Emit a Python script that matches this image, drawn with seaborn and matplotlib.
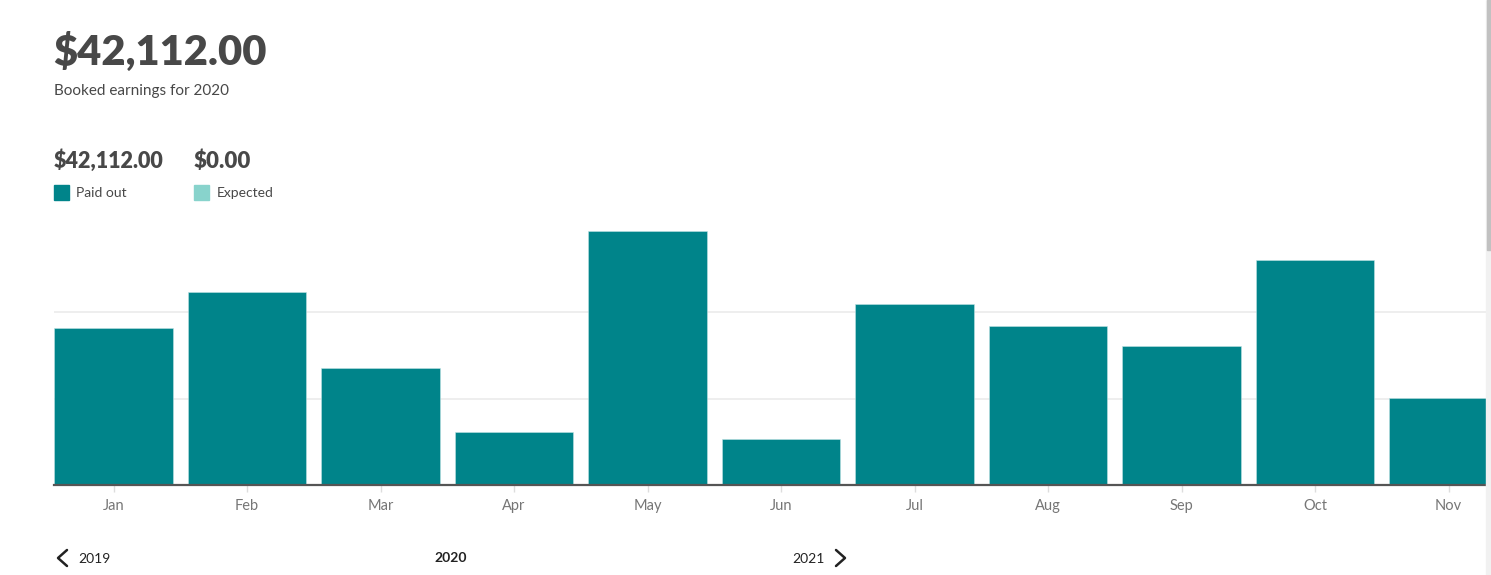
import matplotlib
matplotlib.use('Agg')
import matplotlib.pyplot as plt
from matplotlib.lines import Line2D
from matplotlib.patches import Rectangle
import pandas as pd
import seaborn as sns

# Monthly payouts for 2020 (grid step = 2000)
months = ['Jan', 'Feb', 'Mar', 'Apr', 'May', 'Jun', 'Jul', 'Aug', 'Sep', 'Oct', 'Nov']
paid_out = [3640, 4480, 2700, 1230, 5880, 1070, 4190, 3680, 3210, 5210, 2010]
grid_values = [2000, 4000]
total_paid = '$42,112.00'
total_expected = '$0.00'
year_prev, year_cur, year_next = '2019', '2020', '2021'

TEAL = '#00848a'
LIGHT_TEAL = '#88d3cc'
DARK = '#484848'
GRAY = '#767676'

sns.set_theme(style='white')
plt.rcParams['font.family'] = ['Lato', 'DejaVu Sans']

W, H = 1491, 575
fig = plt.figure(figsize=(W / 100, H / 100), dpi=100)
fig.patch.set_facecolor('white')


def fx(px):
    return px / W


def fy(py):
    return 1 - py / H


# axis: left edge at 54px, baseline at 485px, one grid step = 86.3px
step_px = 133.5
x_lo, x_hi = -0.4457, 11.5
ax = fig.add_axes([fx(54), fy(485), (x_hi - x_lo) * step_px / W, 3 * 86.3 / H])

df = pd.DataFrame({'month': months, 'paid': paid_out})
sns.barplot(data=df, x='month', y='paid', color=TEAL, width=0.891,
            saturation=1, ax=ax, edgecolor='#bfe3e4', linewidth=0.4)

ax.set_xlim(x_lo, x_hi)
ax.set_ylim(0, 6000)
ax.set_xlabel('')
ax.set_ylabel('')
ax.set_yticks([])
for g in grid_values:
    ax.axhline(g, color='#ebebeb', lw=1.2, zorder=0)
for s in ['top', 'left', 'right']:
    ax.spines[s].set_visible(False)
ax.spines['bottom'].set_color('#555555')
ax.spines['bottom'].set_linewidth(1.6)
ax.tick_params(axis='x', bottom=True, length=5, width=1, color='#dddddd',
               labelsize=10.5, labelcolor=GRAY, pad=5)
ax.set_facecolor('none')

# header text
fig.text(fx(53), fy(65), total_paid, fontsize=30, fontweight='heavy', color=DARK, va='baseline')
fig.text(fx(54), fy(95), 'Booked earnings for 2020', fontsize=11, color=DARK, va='baseline')
fig.text(fx(54), fy(168), total_paid, fontsize=15.5, fontweight='heavy', color=DARK, va='baseline')
fig.text(fx(194), fy(168), total_expected, fontsize=16, fontweight='heavy', color=DARK, va='baseline')

# legend swatches
fig.add_artist(Rectangle((fx(54), fy(200)), fx(15), 15 / H, color=TEAL, transform=fig.transFigure))
fig.text(fx(76), fy(197), 'Paid out', fontsize=10, color=DARK, va='baseline')
fig.add_artist(Rectangle((fx(194), fy(200)), fx(15), 15 / H, color=LIGHT_TEAL, transform=fig.transFigure))
fig.text(fx(217), fy(197), 'Expected', fontsize=10, color=DARK, va='baseline')

# year navigation
fig.add_artist(Line2D([fx(67), fx(58), fx(67)], [fy(550), fy(558), fy(566)],
                      color='#222222', lw=1.8, transform=fig.transFigure))
fig.text(fx(78), fy(559), year_prev, fontsize=10, color='#222222', va='center')
fig.text(fx(451), fy(558), year_cur, fontsize=10, fontweight='bold', color='#222222',
         va='center', ha='center')
fig.text(fx(825), fy(559), year_next, fontsize=10, color='#222222', va='center', ha='right')
fig.add_artist(Line2D([fx(836), fx(845), fx(836)], [fy(550), fy(558), fy(566)],
                      color='#222222', lw=1.8, transform=fig.transFigure))

# browser scrollbar on the right edge
fig.add_artist(Rectangle((fx(1486), 0), fx(5), 1, color='#f1f1f1', transform=fig.transFigure))
fig.add_artist(Rectangle((fx(1487), fy(250)), fx(4), 250 / H, color='#c1c1c1', transform=fig.transFigure))

fig.savefig('out.png', dpi=100)
